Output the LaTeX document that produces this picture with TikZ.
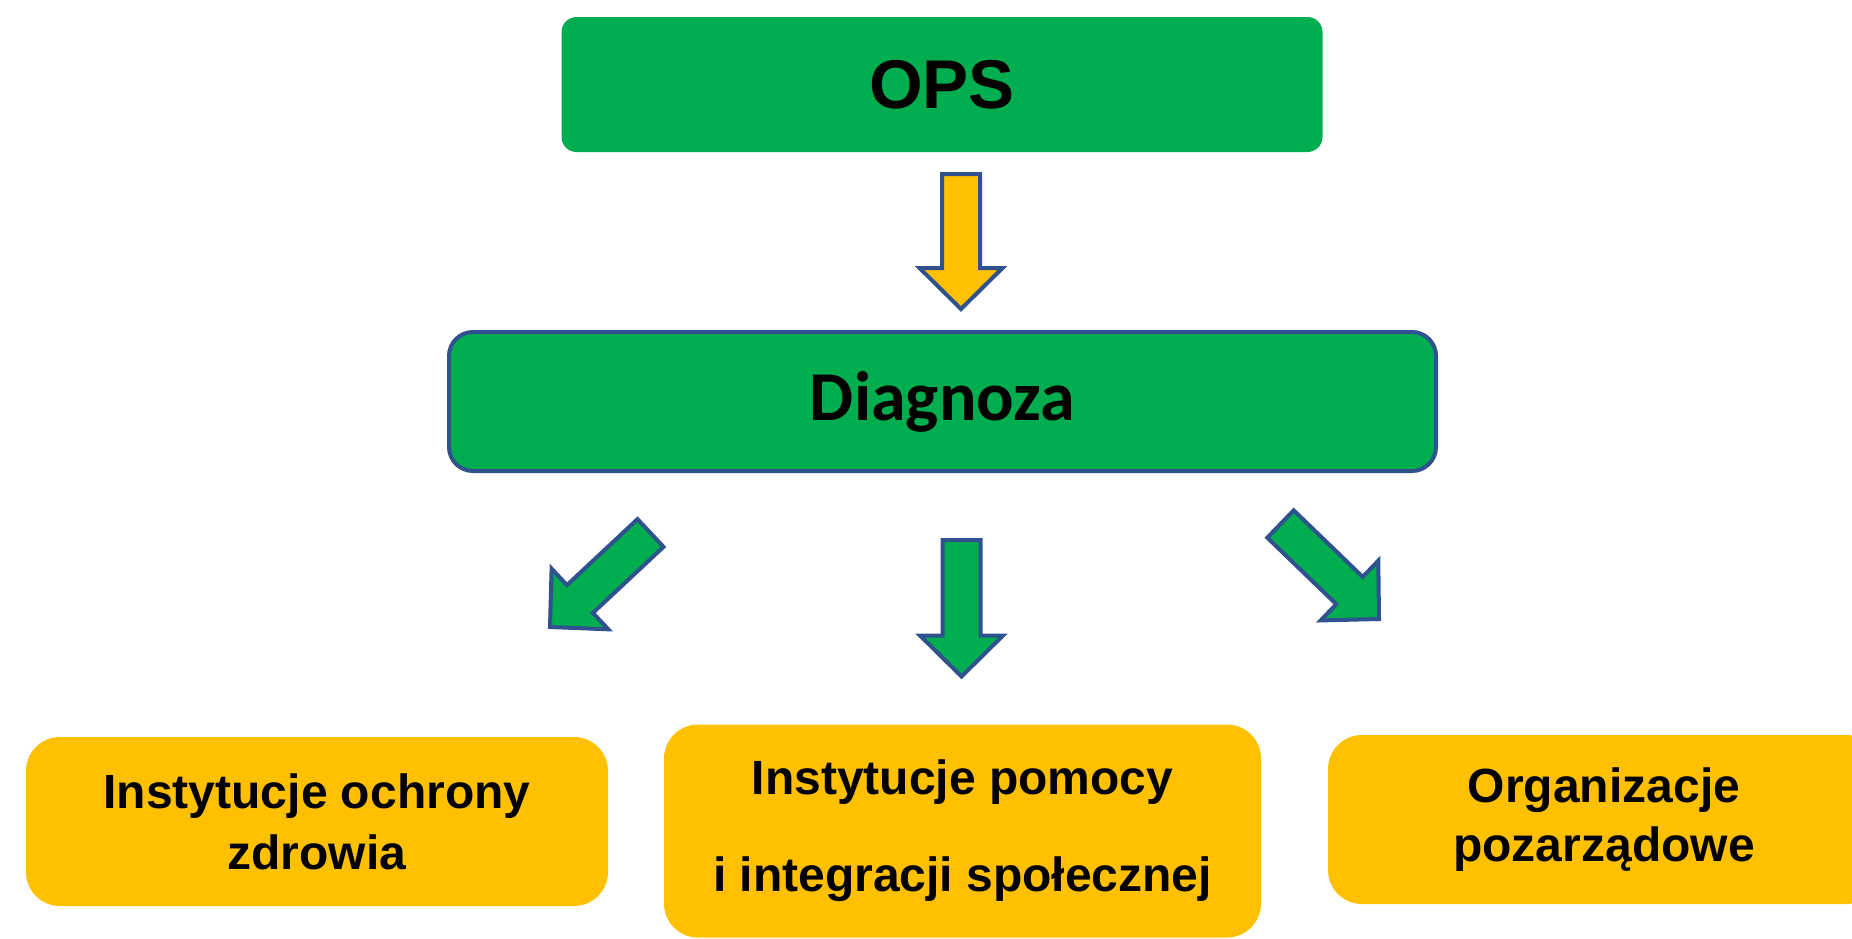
\documentclass[tikz,border=0pt]{standalone}
\usepackage{fontspec}
\setmainfont{Liberation Sans}
\newfontfamily\carlito{Carlito}
\usetikzlibrary{calc,positioning}

\definecolor{opsgreen}{HTML}{00AE4F}
\definecolor{boxyellow}{HTML}{FFC000}
\definecolor{edgeblue}{HTML}{2F528F}

\newcommand{\blockarrow}[3]{%
  \coordinate (head) at ($(#2)!20.5pt!(#1)$);
  \draw[barrow, fill=#3] ($(#1)!9.5pt!90:(#2)$) -- ($(head)!9.5pt!-90:(#1)$)
    -- ($(head)!20.75pt!-90:(#1)$) -- (#2) -- ($(head)!20.75pt!90:(#1)$)
    -- ($(head)!9.5pt!90:(#1)$) -- ($(#1)!9.5pt!-90:(#2)$) -- cycle;
}

\begin{document}
\begin{tikzpicture}[x=0.5pt, y=-0.5pt,
  topbox/.style={rectangle, outer sep=0pt, fill=opsgreen, text centered, align=center},
  unitbox/.style={rectangle, outer sep=0pt, fill=boxyellow, rounded corners=17pt, text centered, align=center},
  barrow/.style={draw=edgeblue, line width=2pt, line join=miter}
]
  \useasboundingbox (0,0) rectangle (1852,938);

  \node[topbox, rounded corners=7.5pt, minimum width=380.5pt, minimum height=67.5pt,
    font=\bfseries\fontsize{34.5}{40}\selectfont] (ops) at (942,84.5) {OPS};
  \node[topbox, draw=edgeblue, line width=2pt, rounded corners=12pt, minimum width=493.5pt, minimum height=69.5pt,
    font=\carlito\bfseries\fontsize{35}{40}\selectfont] (diag) at (942.5,401.5) {Diagnoza};

  \node[unitbox, minimum width=291pt, minimum height=84.5pt,
    font=\bfseries\fontsize{24}{30.5}\selectfont] (health) at (317,821.5) {Instytucje ochrony\\zdrowia};
  \node[unitbox, minimum width=298.5pt, minimum height=106.5pt,
    font=\bfseries\fontsize{24}{48.5}\selectfont] (social) at (962.5,831) {Instytucje pomocy\\i integracji społecznej};
  \node[unitbox, minimum width=276pt, minimum height=84.5pt,
    font=\bfseries\fontsize{24}{29.5}\selectfont] (ngo) at (1604,819.5) {Organizacje\\pozarządowe};

  \coordinate (y1) at ($(ops.south)+(19,22)$);
  \coordinate (y2) at ($(diag.north)+(18.5,-23)$);
  \coordinate (g1) at ($(diag.south)+(19,69)$);
  \coordinate (g2) at ($(social.north)+(-1,-48)$);
  \coordinate (l1) at ($(diag.south west)+(201.5,62)$);
  \coordinate (l2) at ($(health.north)+(233,-110)$);
  \coordinate (r1) at ($(diag.south east)+(-155.5,53)$);
  \coordinate (r2) at ($(ngo.north west)+(51,-116)$);

  \blockarrow{y1}{y2}{boxyellow}
  \blockarrow{g1}{g2}{opsgreen}
  \blockarrow{l1}{l2}{opsgreen}
  \blockarrow{r1}{r2}{opsgreen}
\end{tikzpicture}
\end{document}
